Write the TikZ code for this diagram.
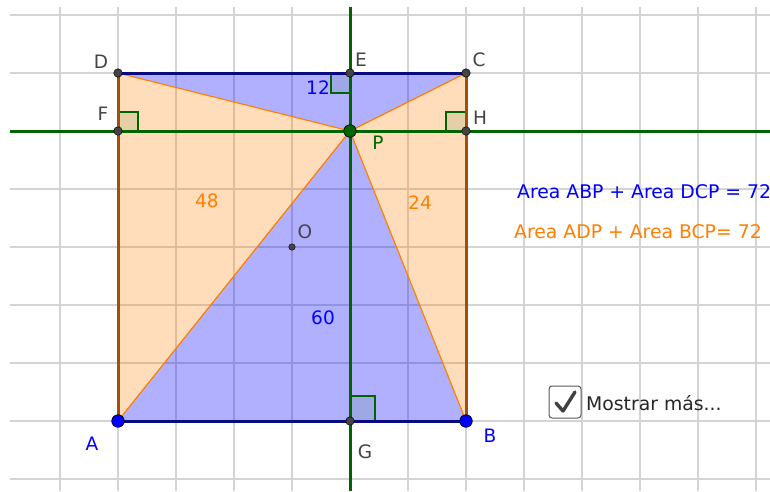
\documentclass[tikz,border=0pt]{standalone}
\usepackage{fontspec}
\setmainfont{DejaVu Sans}
\definecolor{gridc}{HTML}{D4D4D4}
\definecolor{navy}{HTML}{0A0A80}
\definecolor{brownedge}{HTML}{A0500A}
\definecolor{ggorange}{HTML}{FF7F00}
\definecolor{gggreen}{HTML}{006400}
\definecolor{ptgray}{HTML}{444444}
\definecolor{lblgray}{HTML}{444444}
\definecolor{ggblue}{HTML}{0000FF}
\begin{document}
\begin{tikzpicture}[x=1pt,y=-1pt,
  gridline/.style={gridc,line width=1.5pt},
  bluefill/.style={fill=ggblue,fill opacity=0.31},
  orfill/.style={fill=ggorange,fill opacity=0.27},
  orline/.style={ggorange,line width=1.2pt},
  greenline/.style={gggreen,line width=3pt},
  ramark/.style={draw=gggreen,line width=1.1pt,fill=gggreen,fill opacity=0.1},
  graypt/.style={circle,fill=ptgray,draw=black,line width=0.5pt,inner sep=0pt,minimum size=8.5pt},
  bluept/.style={circle,fill=ggblue,draw=black,line width=0.7pt,inner sep=0pt,minimum size=12.5pt},
  greenpt/.style={circle,fill=gggreen,draw=black,line width=0.7pt,inner sep=0pt,minimum size=12.5pt},
  smallpt/.style={circle,fill=ptgray,draw=black,line width=0.4pt,inner sep=0pt,minimum size=6.5pt},
  lblfont/.style={font=\fontsize{18.5}{21}\selectfont,inner sep=0pt},
  lbl/.style={text=lblgray,lblfont},
  bluelbl/.style={text=ggblue,lblfont},
  orlbl/.style={text=ggorange,lblfont},
  greenlbl/.style={text=gggreen,lblfont},
  bigtext/.style={font=\fontsize{18.8}{22}\selectfont,inner sep=0pt}]
\useasboundingbox (0,0) rectangle (770,491);
\fill[white] (0,0) rectangle (770,491);
% grid
\foreach \x in {60,118,176,234,292,350,408,466,524,582,640,698,756}
  \draw[gridline] (\x,7) -- (\x,491);
\foreach \y in {15,73,131,189,247,305,363,421,479}
  \draw[gridline] (10,\y) -- (770,\y);
% points
\coordinate (D) at (118,73);
\coordinate (C) at (466,73);
\coordinate (A) at (118,421);
\coordinate (B) at (466,421);
\coordinate (E) at (350,73);
\coordinate (P) at (350,131);
\coordinate (F) at (118,131);
\coordinate (H) at (466,131);
\coordinate (G) at (350,421);
\coordinate (O) at (292,247);
% fills
\fill[bluefill] (A) -- (B) -- (P) -- cycle;
\fill[bluefill] (D) -- (C) -- (P) -- cycle;
\fill[orfill] (A) -- (D) -- (P) -- cycle;
\fill[orfill] (B) -- (C) -- (P) -- cycle;
% right angle marks
\draw[ramark] (E) rectangle ++(-19,20);
\draw[ramark] (F) rectangle ++(20,-19);
\draw[ramark] (H) rectangle ++(-20,-19);
\draw[ramark] (G) rectangle ++(25,-25);
% orange segments
\draw[orline] (P) -- (A);
\draw[orline] (P) -- (B);
\draw[orline] (P) -- (C);
\draw[orline] (P) -- (D);
% green lines
\draw[greenline] (10,131) -- (770,131);
\draw[greenline] (350,7) -- (350,491);
% square edges
\draw[navy,line width=3pt] (D) -- (C);
\draw[navy,line width=3pt] (A) -- (B);
\draw[brownedge,line width=3pt] (A) -- (D);
\draw[brownedge,line width=3pt] (B) -- (C);
% point markers
\node[graypt] (nD) at (D) {};
\node[graypt] (nC) at (C) {};
\node[graypt] (nE) at (E) {};
\node[graypt] (nF) at (F) {};
\node[graypt] (nH) at (H) {};
\node[graypt] (nG) at (G) {};
\node[smallpt] (nO) at (O) {};
\node[bluept] (nA) at (A) {};
\node[bluept] (nB) at (B) {};
\node[greenpt] (nP) at (P) {};
% labels
\node[lbl] (lD) at (101,62) {D};
\node[lbl] (lE) at (361,60) {E};
\node[lbl] (lC) at (479,60) {C};
\node[lbl] (lF) at (103,114) {F};
\node[lbl] (lH) at (480,118) {H};
\node[greenlbl] (lP) at (378,143) {P};
\node[bluelbl] (lA) at (92,444) {A};
\node[bluelbl] (lB) at (490,436) {B};
\node[lbl] (lG) at (365,452) {G};
\node[lbl] (lO) at (305,232) {O};
\node[bluelbl] (n12) at (318,88) {12};
\node[orlbl] (n48) at (207,201) {48};
\node[orlbl] (n24) at (420,203) {24};
\node[bluelbl] (n60) at (323,318) {60};
% texts
\node[bigtext,text=ggblue,anchor=west] (t1) at (517,192) {Area ABP + Area DCP = 72};
\node[bigtext,text=ggorange,anchor=west] (t2) at (514,232) {Area ADP + Area BCP= 72};
% checkbox
\draw[rounded corners=3pt,draw=black!65,line width=1pt,fill=white] (549,386) rectangle (581,418) node[midway] (cb) {};
\draw[black!75,line width=3.4pt,line join=round,line cap=round] (556,403) -- (563,411) -- (575,392);
\node[bigtext,text=black!85,anchor=west] (mm) at (586,403) {Mostrar más...};
\end{tikzpicture}
\end{document}
